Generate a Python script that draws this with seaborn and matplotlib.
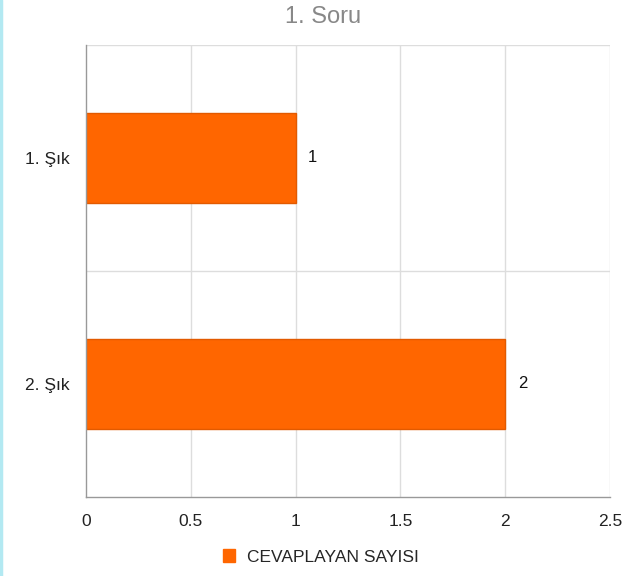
import matplotlib
matplotlib.use("Agg")
import matplotlib.pyplot as plt
import seaborn as sns
import pandas as pd
from matplotlib.patches import Patch
from matplotlib.lines import Line2D

categories = ["1. Şık", "2. Şık"]
values = [1, 2]
series_name = "CEVAPLAYAN SAYISI"
title = "1. Soru"
xticks = [0, 0.5, 1, 1.5, 2, 2.5]
xticklabels = ["0", "0.5", "1", "1.5", "2", "2.5"]

sns.set_style("white")
plt.rcParams["font.family"] = ["Liberation Sans", "DejaVu Sans"]

df = pd.DataFrame({"cat": categories, "val": values})

fig = plt.figure(figsize=(6.24, 5.76), dpi=100)
ax = fig.add_axes([86/624, 1-497/576, (610-86)/624, (497-45)/576])

sns.barplot(data=df, y="cat", x="val", orient="h", ax=ax, color="#FF6600",
            width=0.4, edgecolor="#E25A00", linewidth=1, saturation=1)

ax.set_xlim(0, 2.5)
ax.set_ylim(1.5, -0.5)
ax.set_xticks(xticks)
ax.set_xticklabels(xticklabels, fontsize=12.5, color="#222222")
ax.set_yticks([0, 1])
ax.set_yticklabels(categories, fontsize=12.5, color="#222222")
ax.tick_params(axis="y", length=0, pad=11.5)
ax.tick_params(axis="x", length=0, pad=12)
ax.set_xlabel("")
ax.set_ylabel("")

# grid
for x in xticks[1:]:
    ax.axvline(x, color="#dddddd", lw=1, zorder=0)
for yb in [-0.5, 0.5]:
    ax.axhline(yb, color="#dddddd", lw=1, zorder=0)

for s in ["top", "right"]:
    ax.spines[s].set_visible(False)
for s in ["left", "bottom"]:
    ax.spines[s].set_color("#999999")
    ax.spines[s].set_linewidth(1)

# category boundary ticks on y and end ticks on x
ax.set_yticks([-0.5, 0.5, 1.5], minor=True)
ax.tick_params(axis="y", which="minor", length=6, color="#999999", width=1)
ax.set_xticks([0, 2.5], minor=True)
ax.tick_params(axis="x", which="minor", length=6, color="#999999", width=1)

for i, v in enumerate(values):
    ax.text(v + 0.06, i, str(v), va="center", ha="left", fontsize=12, color="#111111")

fig.text(323/624, 1-17/576, title, ha="center", va="center", fontsize=17, color="#888888")

handle = Patch(facecolor="#FF6600", edgecolor="#FF6600")
fig.legend([handle], [series_name], loc="center", bbox_to_anchor=(321/624, 1-557/576),
           frameon=False, fontsize=12.5, handlelength=0.7, handleheight=0.7,
           handletextpad=0.7)

# left light-blue border
fig.add_artist(Line2D([1/624, 1/624], [0, 1], color="#b3e9f2", lw=2.5, transform=fig.transFigure))

fig.savefig("out.png", dpi=100)
